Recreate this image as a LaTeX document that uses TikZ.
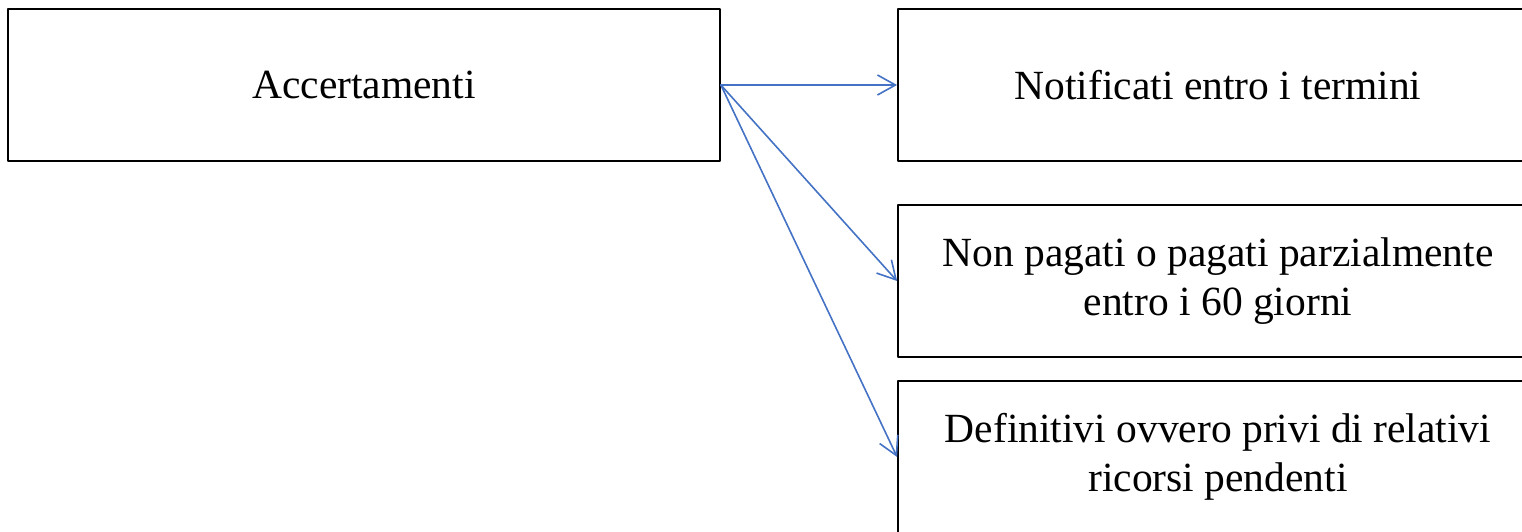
\documentclass[tikz,border=0pt]{standalone}
\usepackage{fontspec}
\setmainfont{Liberation Serif}
\usetikzlibrary{arrows.meta}
\definecolor{freccia}{RGB}{68,114,196}
\begin{document}
\begin{tikzpicture}[x=1pt, y=1pt, line join=round, line cap=round,
	>={Straight Barb[length=18pt, width=20pt, line width=1.6pt]},
	box/.style={draw, line width=1.8pt, minimum height=152pt, align=center,
		font=\fontsize{41.5}{49}\selectfont}]
			\useasboundingbox (0,0) rectangle (1522,-531);
			\clip (0,0) rectangle (1522,-531);
			\node[box, minimum width=712pt] (acc) at (364,-85) {Accertamenti};
			\node[box, minimum width=640pt] (notif) at (1218,-85) {Notificati entro i termini};
			\node[box, minimum width=640pt] (nonpag) at (1218,-281) {Non pagati o pagati parzialmente\\entro i 60 giorni};
			\node[box, minimum width=640pt] (defin) at (1218,-457) {Definitivi ovvero privi di relativi\\ricorsi pendenti};
			\foreach \n in {notif,nonpag,defin}\draw[->, freccia, line width=1.6pt] (acc.east)--(\n.west);
		\end{tikzpicture}
\end{document}
